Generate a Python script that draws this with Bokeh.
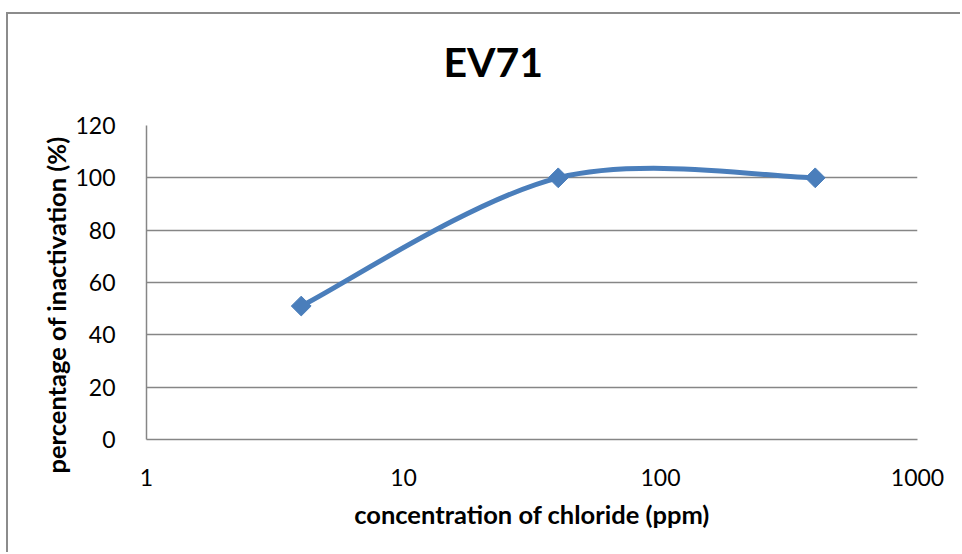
import numpy as np
from bokeh.plotting import figure
from bokeh.models import FixedTicker, Title
from bokeh.embed import file_html
from bokeh.resources import INLINE

# data
concentration = [4, 40, 400]
inactivation = [51, 100, 100]
y_ticks = [0, 20, 40, 60, 80, 100, 120]
x_ticks = [1, 10, 100, 1000]

FONT = "Lato"
BLUE = "#4a7ebb"
GRID = "#868686"
FRAME = "#8c8c8c"

p = figure(width=954, height=540, x_axis_type="log",
           x_range=(1, 1000), y_range=(0, 120),
           output_backend="svg", toolbar_location=None,
           min_border_left=138, min_border_right=45,
           min_border_top=111, min_border_bottom=115)
p.title = None
p.styles = {"margin-left": "6px", "margin-top": "12px",
            "border-left": f"2px solid {FRAME}", "border-top": f"2px solid {FRAME}"}

p.outline_line_color = None
p.background_fill_color = "white"
p.border_fill_color = "white"

# spacer between plot area and the chart title, then the title itself
p.add_layout(Title(text=" ", text_font_size="1px", standoff=37), "above")
p.add_layout(Title(text="EV71", align="left", offset=297, text_font=FONT,
                   text_font_size="41px", text_font_style="bold",
                   text_color="black", standoff=0), "above")

# y-axis title as a side title so it can be nudged along the axis
ytitle = Title(text="percentage of inactivation (%)", align="left", offset=-34,
               text_font=FONT, text_font_size="25.5px", text_font_style="bold",
               text_color="black", standoff=4)
p.add_layout(ytitle, "left")

for ax in (p.xaxis[0], p.yaxis[0]):
    ax.axis_line_color = GRID
    ax.axis_line_width = 1.5
    ax.major_tick_line_color = None
    ax.minor_tick_line_color = None
    ax.major_label_text_font = FONT
    ax.major_label_text_font_size = "23px"
    ax.major_label_text_color = "black"
    ax.axis_label_text_font = FONT
    ax.axis_label_text_font_size = "25.5px"
    ax.axis_label_text_font_style = "bold"
    ax.axis_label_text_color = "black"

p.xaxis.ticker = FixedTicker(ticks=x_ticks)
p.yaxis.ticker = FixedTicker(ticks=y_ticks)
p.xaxis.major_label_overrides = {t: str(t) for t in x_ticks}
p.xaxis.major_label_standoff = 23
p.yaxis.major_label_standoff = 25
p.xaxis.axis_label = "concentration of chloride (ppm)"
p.xaxis.axis_label_standoff = 10

p.xgrid.grid_line_color = None
p.ygrid.grid_line_color = GRID
p.ygrid.grid_line_width = 1.5

# Excel-style smoothed line: cubic Bezier segments (Catmull-Rom control points, computed in log-x space)
lx = np.log10(np.array(concentration, dtype=float))
ly = np.array(inactivation, dtype=float)
n = len(lx)
x0s, y0s, x1s, y1s, cx0, cy0, cx1, cy1 = [], [], [], [], [], [], [], []
for i in range(n - 1):
    pm = max(i - 1, 0)
    pp = min(i + 2, n - 1)
    c1x = lx[i] + (lx[i + 1] - lx[pm]) / 6
    c1y = ly[i] + (ly[i + 1] - ly[pm]) / 6
    c2x = lx[i + 1] - (lx[pp] - lx[i]) / 6
    c2y = ly[i + 1] - (ly[pp] - ly[i]) / 6
    x0s.append(10 ** lx[i]); y0s.append(ly[i])
    x1s.append(10 ** lx[i + 1]); y1s.append(ly[i + 1])
    cx0.append(10 ** c1x); cy0.append(c1y)
    cx1.append(10 ** c2x); cy1.append(c2y)

p.bezier(x0=x0s, y0=y0s, x1=x1s, y1=y1s, cx0=cx0, cy0=cy0, cx1=cx1, cy1=cy1,
         line_color=BLUE, line_width=5)
p.scatter(concentration, inactivation, marker="square", size=14, angle=np.pi / 4,
          fill_color=BLUE, line_color=BLUE)

open("out.html", "w").write(file_html(p, INLINE))
